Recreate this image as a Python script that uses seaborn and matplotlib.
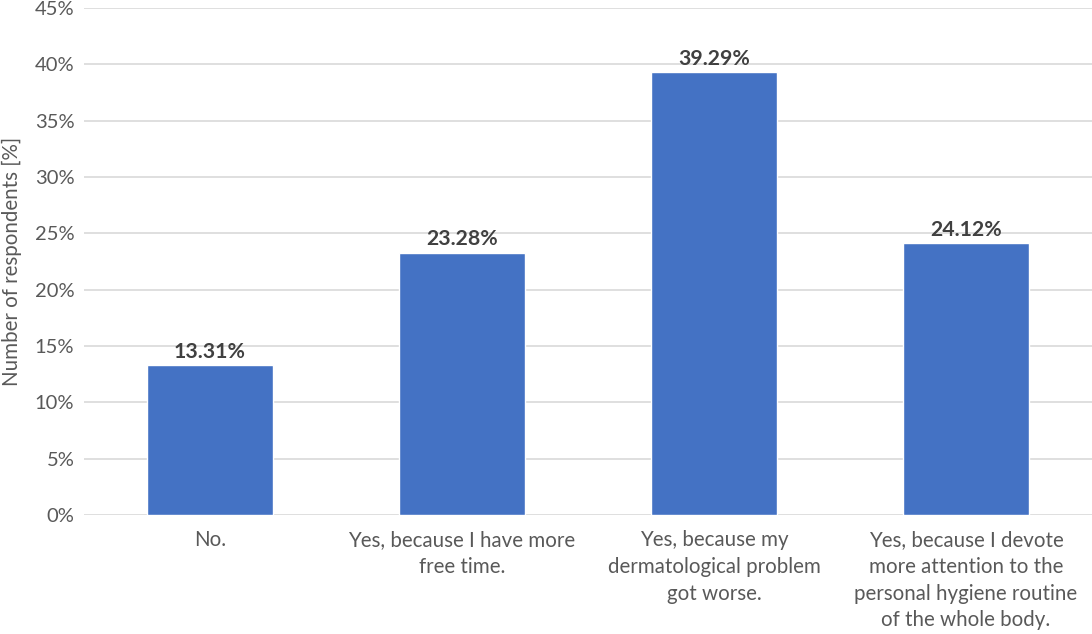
import matplotlib
matplotlib.use("Agg")
import matplotlib.pyplot as plt
from matplotlib.ticker import PercentFormatter
import seaborn as sns
import pandas as pd

categories = [
    "No.",
    "Yes, because I have more\nfree time.",
    "Yes, because my\ndermatological problem\ngot worse.",
    "Yes, because I devote\nmore attention to the\npersonal hygiene routine\nof the whole body.",
]
values = [13.31, 23.28, 39.29, 24.12]
value_labels = ["13.31%", "23.28%", "39.29%", "24.12%"]

df = pd.DataFrame({"category": categories, "value": values})

sns.set_theme(style="white")
plt.rcParams["font.family"] = ["Lato", "DejaVu Sans"]

fig = plt.figure(figsize=(10.92, 6.34), dpi=100)
ax = fig.add_axes([84 / 1092, 1 - 515 / 634, 1 - 84 / 1092, (515 - 8) / 634])

sns.barplot(data=df, x="category", y="value", color="#4472C4", width=0.5,
            saturation=1, ax=ax, zorder=3)

ax.set_ylim(0, 45)
ax.set_yticks(range(0, 46, 5))
ax.yaxis.set_major_formatter(PercentFormatter(decimals=0))
ax.grid(axis="y", color="#d9d9d9", linewidth=1.2, zorder=0)
ax.set_axisbelow(True)
for s in ax.spines.values():
    s.set_visible(False)

ax.tick_params(axis="both", length=0, colors="#595959")
ax.tick_params(axis="y", labelsize=14.5, pad=7)
ax.tick_params(axis="x", labelsize=14.8, pad=11)
for lab in ax.get_xticklabels():
    lab.set_linespacing(1.42)
ax.set_xlabel("")
ax.set_ylabel("Number of respondents [%]", fontsize=14.8, color="#595959")
ax.yaxis.set_label_coords(-0.0615, 0.5)

for i, (v, lab) in enumerate(zip(values, value_labels)):
    ax.text(i, v + 0.3, lab, ha="center", va="bottom", fontsize=15.3,
            fontweight="bold", color="#404040")

fig.savefig("out.png", dpi=100)
